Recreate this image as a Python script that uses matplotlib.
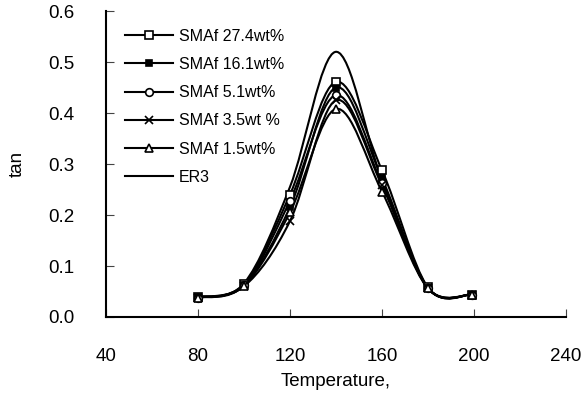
import matplotlib
matplotlib.use('Agg')
import matplotlib.pyplot as plt
from matplotlib.path import Path
from matplotlib.patches import PathPatch
from matplotlib.lines import Line2D
import numpy as np

plt.rcParams['font.family'] = ['Liberation Sans', 'DejaVu Sans']

temps = [80, 100, 120, 140, 160, 180, 199]

labels = ['SMAf 27.4wt%', 'SMAf 16.1wt%', 'SMAf 5.1wt%',
          'SMAf 3.5wt %', 'SMAf 1.5wt%', 'ER3']

tan_27_4 = [0.039, 0.064, 0.240, 0.461, 0.288, 0.058, 0.044]
tan_16_1 = [0.039, 0.063, 0.215, 0.450, 0.272, 0.057, 0.044]
tan_5_1 = [0.038, 0.062, 0.228, 0.435, 0.262, 0.057, 0.044]
tan_3_5 = [0.038, 0.060, 0.188, 0.425, 0.258, 0.056, 0.044]
tan_1_5 = [0.038, 0.061, 0.205, 0.408, 0.246, 0.056, 0.044]
tan_er3 = [0.039, 0.066, 0.255, 0.520, 0.268, 0.057, 0.044]

series = [tan_27_4, tan_16_1, tan_5_1, tan_3_5, tan_1_5, tan_er3]
markers = ['s', 's', 'o', 'x', '^', None]
faces = ['white', 'black', 'white', 'black', 'white', 'black']


def smooth_path(x, y):
    # excel style smoothed line: catmull-rom turned into cubic beziers
    pts = np.column_stack([x, y]).astype(float)
    n = len(pts)
    verts = [pts[0]]
    codes = [Path.MOVETO]
    for i in range(n - 1):
        p0 = pts[i - 1] if i > 0 else pts[i]
        p1 = pts[i]
        p2 = pts[i + 1]
        p3 = pts[i + 2] if i + 2 < n else pts[i + 1]
        c1 = p1 + (p2 - p0) / 6.0
        c2 = p2 - (p3 - p1) / 6.0
        verts += [c1, c2, p2]
        codes += [Path.CURVE4] * 3
    return Path(verts, codes)


fig = plt.figure(figsize=(5.84, 4.03), dpi=100)
ax = fig.add_axes([0.1815, 0.2134, 0.7875, 0.7593])

handles = []
for vals, m, fc, lab in zip(series, markers, faces, labels):
    ax.add_patch(PathPatch(smooth_path(temps, vals), fill=False,
                           edgecolor='black', linewidth=1.5))
    ms = 4.5 if m == 's' and fc == 'black' else 5.5
    if m is not None:
        ax.plot(temps, vals, linestyle='none', marker=m, markersize=ms,
                markerfacecolor=fc, markeredgecolor='black',
                markeredgewidth=1.2)
    handles.append(Line2D([], [], color='black', linewidth=1.5, marker=m,
                          markersize=ms, markerfacecolor=fc,
                          markeredgecolor='black', markeredgewidth=1.2,
                          label=lab))

ax.set_xlim(40, 240)
ax.set_ylim(0, 0.6)
ax.set_xticks([40, 80, 120, 160, 200, 240])
ax.set_yticks(np.arange(0, 0.61, 0.1))
ax.yaxis.set_major_formatter(plt.FormatStrFormatter('%.1f'))

ax.spines['top'].set_visible(False)
ax.spines['right'].set_visible(False)
ax.spines['left'].set_linewidth(1.5)
ax.spines['bottom'].set_linewidth(1.5)
ax.tick_params(direction='in', length=6, width=0.8, labelsize=13.5,
               color='#444444')
ax.tick_params(axis='x', pad=22)
ax.tick_params(axis='y', pad=23)

ax.set_xlabel('Temperature,', fontsize=13.5, labelpad=6)
ax.set_ylabel('tan', fontsize=13.5, labelpad=16)

ax.legend(handles=handles, loc='upper left', frameon=False, fontsize=11.5,
          handlelength=3.05, handletextpad=0.37, labelspacing=0.83,
          borderaxespad=0.0, bbox_to_anchor=(0.0265, 0.963))

fig.savefig('out.png', dpi=100)
